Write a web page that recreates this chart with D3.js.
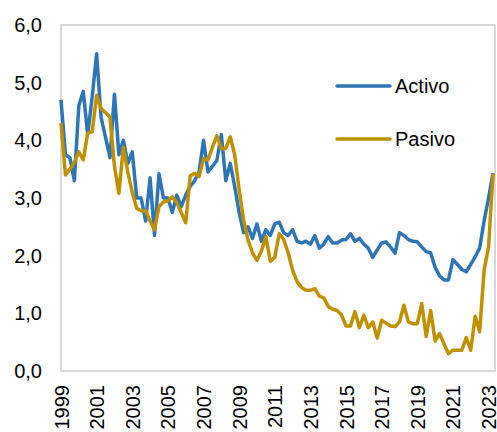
<!DOCTYPE html>
<html>
<head>
<meta charset="utf-8">
<script src="https://cdn.jsdelivr.net/npm/d3@7"></script>
<style>
  body { margin: 0; background: #fff; }
  text { font-family: "Liberation Sans", Arial, sans-serif; fill: #000; }
</style>
</head>
<body>
<div id="chart"></div>
<script>
// quarterly series, 1999Q1 .. 2023Q2
const startYear = 1999;
const activo = [
  4.7, 3.75, 3.7, 3.3, 4.6, 4.85, 4.1, 4.75, 5.5, 4.4, 4.05, 3.7,
  4.8, 3.75, 4.0, 3.6, 3.8, 3.0, 3.0, 2.6, 3.35, 2.35, 3.42, 3.0,
  3.0, 2.75, 3.05, 2.85, 3.05, 3.2, 3.3, 3.45, 4.0, 3.45, 3.55, 3.65,
  4.1, 3.3, 3.6, 3.2, 2.75, 2.4, 2.5, 2.3, 2.55, 2.25, 2.45, 2.35,
  2.55, 2.58, 2.4, 2.35, 2.45, 2.25, 2.22, 2.25, 2.2, 2.35, 2.13, 2.2,
  2.33, 2.22, 2.22, 2.27, 2.28, 2.38, 2.25, 2.3, 2.2, 2.13, 1.97, 2.1,
  2.22, 2.24, 2.15, 2.04, 2.4, 2.35, 2.28, 2.25, 2.24, 2.15, 2.07, 2.05,
  1.8, 1.65, 1.58, 1.58, 1.93, 1.85, 1.76, 1.72, 1.85, 1.98, 2.13, 2.6,
  3.0, 3.43
];
const pasivo = [
  4.3, 3.4, 3.5, 3.62, 3.8, 3.66, 4.13, 4.15, 4.78, 4.55, 4.48, 4.4,
  3.55, 3.08, 3.88, 3.45, 3.1, 2.82, 2.78, 2.78, 2.6, 2.45, 2.85, 2.93,
  2.95, 3.02, 2.92, 2.75, 2.57, 3.38, 3.43, 3.37, 3.68, 3.66, 3.88, 4.08,
  3.86, 3.86, 4.06, 3.75, 3.15, 2.62, 2.27, 2.05, 1.92, 2.08, 2.33, 1.9,
  1.97, 2.38, 2.28, 2.05, 1.75, 1.55, 1.45, 1.4, 1.4, 1.43, 1.3, 1.27,
  1.12, 1.07, 1.05, 0.97, 0.78, 0.78, 1.03, 0.75, 0.97, 0.75, 0.85, 0.57,
  0.88, 0.83, 0.78, 0.77, 0.85, 1.14, 0.85, 0.82, 0.82, 1.17, 0.6, 1.05,
  0.52, 0.65, 0.47, 0.3, 0.36, 0.36, 0.36, 0.58, 0.36, 0.95, 0.68, 1.75,
  2.15, 3.42
];
const yearTicks = [1999, 2001, 2003, 2005, 2007, 2009, 2011, 2013, 2015, 2017, 2019, 2021, 2023];
const yTicks = [0, 1, 2, 3, 4, 5, 6];
const seriesNames = ["Activo", "Pasivo"];
const seriesColors = ["#2e75b6", "#bf9000"];

Chart();

function Chart() {
  const margin = { top: 25, right: 2, bottom: 61, left: 61 };
  const width = 497 - margin.left - margin.right;
  const height = 432 - margin.top - margin.bottom;

  const svg = d3
    .select("#chart")
    .append("svg")
    .attr("width", width + margin.left + margin.right)
    .attr("height", height + margin.top + margin.bottom)
    .append("g")
    .attr("transform", "translate(" + margin.left + "," + margin.top + ")");

  // x is time in years, one point per quarter (last point sits just inside the frame)
  const xScale = d3
    .scaleLinear()
    .domain([startYear, startYear + (activo.length - 1) / 4])
    .range([0, width - 2]);

  const yScale = d3.scaleLinear().domain([0, 6]).range([height, 0]);

  // plot border
  svg
    .append("rect")
    .attr("width", width)
    .attr("height", height)
    .style("fill", "none")
    .style("stroke", "#cccccc")
    .style("stroke-width", 1.5);

  // y-axis
  const yAxis = svg
    .append("g")
    .call(
      d3
        .axisLeft(yScale)
        .tickValues(yTicks)
        .tickSize(0)
        .tickPadding(19)
        .tickFormat((d) => d3.format(".1f")(d).replace(".", ","))
    );
  yAxis.select(".domain").remove();
  yAxis.selectAll("text").style("font-size", "20px");

  // x-axis, labels turned on their side
  const xAxis = svg
    .append("g")
    .attr("transform", "translate(0," + height + ")")
    .call(d3.axisBottom(xScale).tickValues(yearTicks).tickSize(0).tickFormat(d3.format("d")));
  xAxis.select(".domain").remove();
  xAxis
    .selectAll("text")
    .attr("transform", "rotate(-90)")
    .attr("x", -14)
    .attr("y", 0)
    .attr("dy", "0.35em")
    .style("text-anchor", "end")
    .style("font-size", "20px");

  const line = d3
    .line()
    .x((d, i) => xScale(startYear + i / 4))
    .y((d) => yScale(d));

  [activo, pasivo].forEach(function (values, k) {
    svg
      .append("path")
      .datum(values)
      .attr("d", line)
      .style("fill", "none")
      .style("stroke", seriesColors[k])
      .style("stroke-width", 3.5)
      .style("stroke-linejoin", "round");
  });

  // legend
  const legend = svg.append("g").attr("transform", "translate(276,61)");
  seriesNames.forEach(function (name, k) {
    legend
      .append("line")
      .attr("x1", 0)
      .attr("x2", 53)
      .attr("y1", k * 53)
      .attr("y2", k * 53)
      .style("stroke", seriesColors[k])
      .style("stroke-width", 3.5)
      .style("stroke-linecap", "round");
    legend
      .append("text")
      .attr("x", 58)
      .attr("y", k * 53)
      .attr("dy", "0.35em")
      .style("font-size", "20px")
      .text(name);
  });
}
</script>
</body>
</html>
